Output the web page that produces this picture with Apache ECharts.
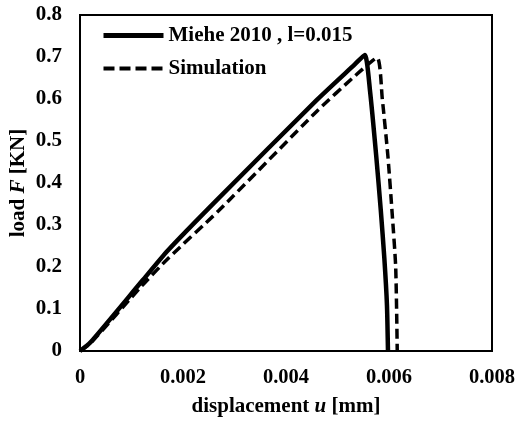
<!DOCTYPE html>
<html>
<head>
<meta charset="utf-8">
<script src="https://cdn.jsdelivr.net/npm/echarts@6/dist/echarts.min.js"></script>
<style>html,body{margin:0;padding:0;background:#fff}#c{width:515px;height:421px}</style>
</head>
<body>
<div id="c"></div>
<script>
var seriesNames = ['Miehe 2010 , l=0.015', 'Simulation'];
var miehe = [[0,0],[0.0002,0.02],[0.00122,0.169],[0.00171,0.240],[0.00266,0.36],[0.0046,0.598],[0.00534,0.683],[0.00553,0.705],[0.00563,0.621],[0.00575,0.467],[0.00584,0.336],[0.00591,0.22],[0.00596,0.11],[0.00598,0.0]];
var simulation = [[0,0],[0.0002,0.018],[0.0012,0.155],[0.0017,0.219],[0.0027,0.335],[0.0046,0.571],[0.00534,0.655],[0.00577,0.698],[0.00587,0.6],[0.00598,0.462],[0.00606,0.33],[0.00613,0.2],[0.00616,0.0]];
var xTickLabels = ['0','0.002','0.004','0.006','0.008'];
var yTickLabels = ['0','0.1','0.2','0.3','0.4','0.5','0.6','0.7','0.8'];

var font = 'Liberation Serif';
var chart = echarts.init(document.getElementById('c'));
chart.setOption({
  animation: false,
  grid: {left: 80, right: 23, top: 15, bottom: 70, show: true, borderColor: '#000', borderWidth: 2,
         backgroundColor: 'transparent', containLabel: false, outerBoundsMode: 'none'},
  legend: {
    orient: 'vertical', left: 96, top: 20, itemWidth: 60, itemHeight: 14, itemGap: 12,
    data: [
      {name: seriesNames[0], lineStyle: {width: 5, type: 'solid', color: '#000'}},
      {name: seriesNames[1], lineStyle: {width: 4, type: [11, 5], color: '#000'}}
    ],
    itemStyle: {color: 'transparent', borderColor: 'transparent', borderWidth: 0, opacity: 0},
    textStyle: {fontFamily: font, fontWeight: 'bold', fontSize: 21, color: '#000'}
  },
  xAxis: {
    type: 'value', min: 0, max: 0.008, interval: 0.002,
    axisLine: {show: false}, axisTick: {show: false}, splitLine: {show: false},
    axisLabel: {margin: 16, fontFamily: font, fontWeight: 'bold', fontSize: 20.5, color: '#000',
      formatter: function (v) { return xTickLabels[Math.round(v / 0.002)]; }},
    name: '{a|displacement }{b|u}{a| [mm]}', nameLocation: 'middle', nameGap: 45, nameMoveOverlap: false,
    nameTextStyle: {rich: {
      a: {fontFamily: font, fontWeight: 'bold', fontSize: 21, color: '#000'},
      b: {fontFamily: font, fontWeight: 'bold', fontStyle: 'italic', fontSize: 21, color: '#000'}
    }}
  },
  yAxis: {
    type: 'value', min: 0, max: 0.8, interval: 0.1,
    axisLine: {show: false}, axisTick: {show: false}, splitLine: {show: false},
    axisLabel: {margin: 18, fontFamily: font, fontWeight: 'bold', fontSize: 21, color: '#000',
      formatter: function (v) { return yTickLabels[Math.round(v / 0.1)]; }},
    name: '{a|load }{b|F}{a| [KN]}', nameLocation: 'middle', nameGap: 51, nameMoveOverlap: false,
    nameTextStyle: {rich: {
      a: {fontFamily: font, fontWeight: 'bold', fontSize: 21, color: '#000'},
      b: {fontFamily: font, fontWeight: 'bold', fontStyle: 'italic', fontSize: 21, color: '#000'}
    }}
  },
  series: [
    {name: seriesNames[0], type: 'line', data: miehe, showSymbol: false, symbol: 'none', smooth: 0.2,
     lineStyle: {color: '#000', width: 4.5, type: 'solid'}, itemStyle: {color: '#000'}},
    {name: seriesNames[1], type: 'line', data: simulation, showSymbol: false, symbol: 'none', smooth: 0.2,
     lineStyle: {color: '#000', width: 3.5, type: [10, 5]}, itemStyle: {color: '#000'}}
  ]
});
</script>
</body>
</html>
